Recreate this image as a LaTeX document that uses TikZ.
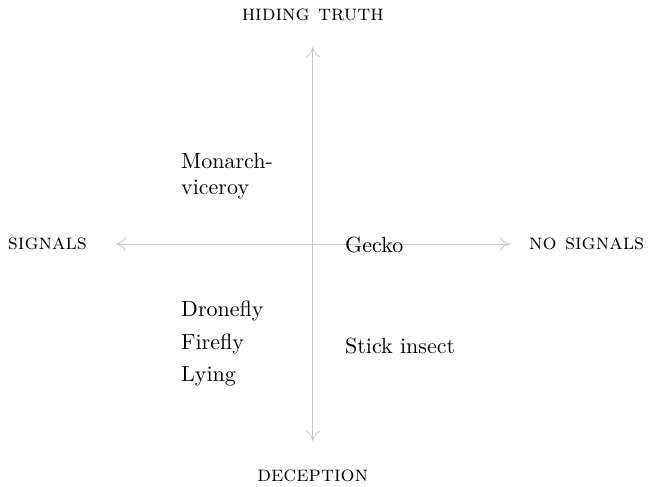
\documentclass[tikz,border=0pt]{standalone}
\usetikzlibrary{positioning,arrows.meta}
\definecolor{axisgrey}{gray}{0.78}
\tikzset{
  axis/.style={{To[length=1.6mm,width=2.2mm]}-{To[length=1.6mm,width=2.2mm]},axisgrey,thin},
  pole/.style={font=\normalsize\scshape,inner sep=1.5pt},
  item/.style={anchor=west,align=left,inner sep=0pt,font=\normalsize},
}

\begin{document}
\begin{tikzpicture}
\useasboundingbox (-5.0,-3.88) rectangle (5.39,3.9);

\def\ax{3.15}

% ------------------------------------------------ axes
\coordinate (top) at (0,\ax);
\coordinate (bot) at (0,-\ax);
\coordinate (lft) at (-\ax,0);
\coordinate (rgt) at (\ax,0);
\draw[axis] (bot) -- (top);
\draw[axis] (lft) -- (rgt);

% ------------------------------------------------ poles
\node[pole] (hide) at (0,3.66) {hiding truth};
\node[pole] (dec) at (0,-3.70) {deception};
\node[pole,anchor=east] (sig) at (-3.55,0) {signals};
\node[pole,anchor=west] (nosig) at (3.40,0) {no signals};

% ------------------------------------------------ quadrants
\node[item] (mon) at (-2.11,1.08) {Monarch-\\viceroy};
\node[item] (gecko) at (0.51,-0.02) {Gecko};
\node[item] (drone) at (-2.11,-1.07) {Dronefly};
\node[item] (fire) at (-2.11,-1.60) {Firefly};
\node[item] (lying) at (-2.11,-2.12) {Lying};
\node[item] (stick) at (0.51,-1.63) {Stick insect};

\end{tikzpicture}
\end{document}
